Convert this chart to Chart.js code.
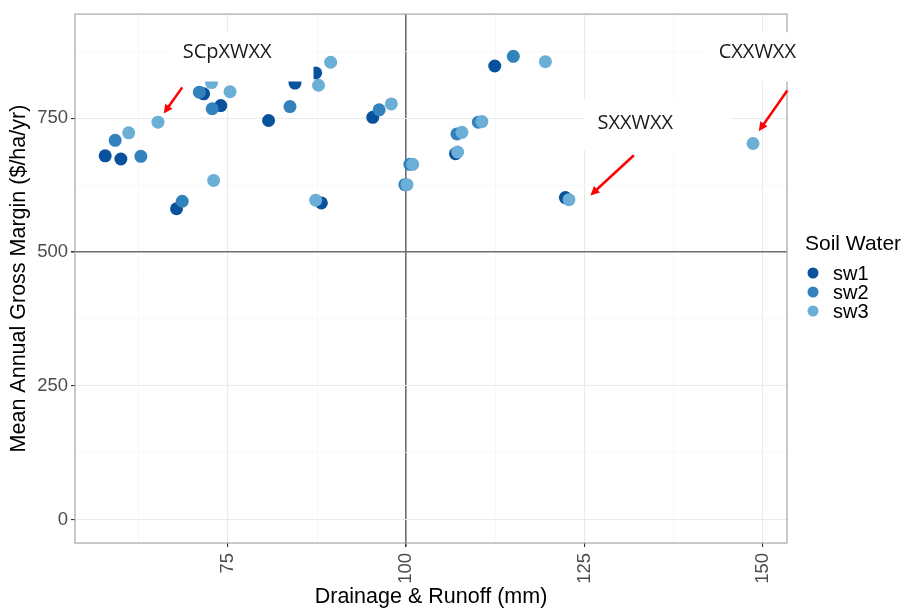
<!DOCTYPE html>
<html>
<head>
<meta charset="utf-8">
<script src="https://cdn.jsdelivr.net/npm/chart.js@4.4.1/dist/chart.umd.min.js"></script>
<style>
  html, body { margin: 0; padding: 0; background: #fff; }
</style>
</head>
<body>
<canvas id="chart" width="904" height="610"></canvas>
<script>
// data
const seriesNames = ['sw1', 'sw2', 'sw3'];
const seriesColors = ['#08519C', '#3182BD', '#6BAED6'];

const sw1X = [57.8, 60.0, 67.8, 71.6, 74.0, 80.7, 84.4, 87.3, 88.1, 95.3, 106.9, 112.4, 122.3];
const sw1Y = [680, 674, 581, 796, 774, 746, 816, 835, 592, 752, 684, 848, 602];

const sw2X = [59.2, 62.8, 68.6, 71.0, 72.8, 83.7, 96.2, 99.8, 100.5, 107.1, 110.1, 115.0];
const sw2Y = [709, 679, 595, 799, 768, 772, 766, 626, 664, 721, 743, 866];

const sw3X = [61.1, 65.2, 73.0, 75.3, 72.7, 87.7, 89.4, 87.3, 97.9, 100.1, 100.9, 107.2, 107.8, 110.6, 119.5, 122.8, 148.6];
const sw3Y = [723, 743, 634, 800, 817, 812, 855, 597, 777, 626, 664, 687, 724, 744, 856, 598, 703];

const xTicks = [75, 100, 125, 150];
const xMinor = [62.5, 87.5, 112.5, 137.5];
const yTicks = [0, 250, 500, 750];
const yMinor = [125, 375, 625, 875];
const refX = 100;
const refY = 500;

// pasted-on notes, in data units
const noteText = ['SCpXWXX', 'SXXWXX', 'CXXWXX'];
const noteAt = [[74.9, 873], [132.1, 741], [149.2, 873]];
const noteBox = [[66.8, 87.0, 911, 819], [124.9, 145.5, 784, 690], [141.5, 155.0, 911, 819]];
const arrowFrom = [[68.6, 808], [131.9, 681], [153.4, 802]];
const arrowTo = [[66.0, 759], [125.8, 606], [149.4, 726]];

const AXIS_FONT = 'Liberation Sans, Arial, sans-serif';

function makePoints(xs, ys) {
    return xs.map((x, i) => ({x: x, y: ys[i]}));
}

function tickList(majors, minors) {
    return majors.concat(minors).sort((a, b) => a - b).map(v => ({value: v}));
}

function gridColor(v, ref, majors) {
    if (v === ref) return '#6e6e6e';
    if (majors.includes(v)) return '#ebebeb';
    return '#f4f4f4';
}

function gridWidth(v, ref, majors) {
    if (v === ref) return 1.6;
    if (majors.includes(v)) return 1.1;
    return 0.6;
}

function drawArrow(ctx, x1, y1, x2, y2) {
    const ang = Math.atan2(y2 - y1, x2 - x1);
    const head = 10;
    ctx.strokeStyle = '#ff0000';
    ctx.fillStyle = '#ff0000';
    ctx.lineWidth = 2.5;
    ctx.beginPath();
    ctx.moveTo(x1, y1);
    ctx.lineTo(x2 - Math.cos(ang) * head * 0.8, y2 - Math.sin(ang) * head * 0.8);
    ctx.stroke();
    ctx.beginPath();
    ctx.moveTo(x2, y2);
    ctx.lineTo(x2 - head * Math.cos(ang - 0.45), y2 - head * Math.sin(ang - 0.45));
    ctx.lineTo(x2 - head * Math.cos(ang + 0.45), y2 - head * Math.sin(ang + 0.45));
    ctx.closePath();
    ctx.fill();
}

const panelBorder = {
    id: 'panelBorder',
    beforeDatasetsDraw(chart) {
        const {ctx, chartArea: a} = chart;
        ctx.save();
        ctx.strokeStyle = '#a6a6a6';
        ctx.lineWidth = 1.2;
        ctx.strokeRect(a.left, a.top, a.right - a.left, a.bottom - a.top);
        ctx.restore();
    }
};

const notes = {
    id: 'notes',
    afterDatasetsDraw(chart) {
        const {ctx, scales} = chart;
        const sx = v => scales.x.getPixelForValue(v);
        const sy = v => scales.y.getPixelForValue(v);
        ctx.save();
        for (let i = 0; i < noteText.length; i++) {
            const b = noteBox[i];
            ctx.fillStyle = '#ffffff';
            ctx.fillRect(sx(b[0]), sy(b[2]), sx(b[1]) - sx(b[0]), sy(b[3]) - sy(b[2]));
            ctx.fillStyle = '#1a1a1a';
            ctx.font = '20px "Open Sans", sans-serif';
            ctx.textAlign = 'center';
            ctx.textBaseline = 'middle';
            ctx.fillText(noteText[i], sx(noteAt[i][0]), sy(noteAt[i][1]));
            drawArrow(ctx, sx(arrowFrom[i][0]), sy(arrowFrom[i][1]), sx(arrowTo[i][0]), sy(arrowTo[i][1]));
        }
        ctx.restore();
    }
};

const sideLegend = {
    id: 'sideLegend',
    afterDraw(chart) {
        const ctx = chart.ctx;
        ctx.save();
        ctx.fillStyle = '#000';
        ctx.textAlign = 'left';
        ctx.textBaseline = 'middle';
        ctx.font = '21px ' + AXIS_FONT;
        ctx.fillText('Soil Water', 805, 244);
        ctx.font = '20px ' + AXIS_FONT;
        seriesNames.forEach((name, i) => {
            const y = 273 + i * 19;
            ctx.fillStyle = seriesColors[i];
            ctx.beginPath();
            ctx.arc(813, y, 5.5, 0, Math.PI * 2);
            ctx.fill();
            ctx.fillStyle = '#000';
            ctx.fillText(name, 833, y + 1);
        });
        ctx.restore();
    }
};

const allX = [sw1X, sw2X, sw3X];
const allY = [sw1Y, sw2Y, sw3Y];

new Chart(document.getElementById('chart'), {
    type: 'scatter',
    data: {
        datasets: seriesNames.map((name, i) => ({
            label: name,
            data: makePoints(allX[i], allY[i]),
            backgroundColor: seriesColors[i],
            borderWidth: 0,
            pointRadius: 6.5,
            pointHoverRadius: 6.5,
            order: 2 - i
        }))
    },
    options: {
        responsive: false,
        animation: false,
        devicePixelRatio: 1,
        layout: {padding: {top: 12, right: 117, left: 0, bottom: 0}},
        plugins: {
            legend: {display: false},
            tooltip: {enabled: false}
        },
        scales: {
            x: {
                type: 'linear',
                min: 53.57,
                max: 153.36,
                afterBuildTicks: s => { s.ticks = tickList(xTicks, xMinor); },
                afterFit: s => { s.height = 67; },
                border: {display: false},
                grid: {
                    color: c => gridColor(c.tick.value, refX, xTicks),
                    lineWidth: c => gridWidth(c.tick.value, refX, xTicks),
                    tickColor: c => xTicks.includes(c.tick.value) ? '#333333' : 'rgba(0,0,0,0)',
                    tickLength: 4
                },
                ticks: {
                    autoSkip: false,
                    minRotation: 90,
                    maxRotation: 90,
                    padding: 6,
                    color: '#4d4d4d',
                    font: {family: AXIS_FONT, size: 18.5},
                    callback: v => xTicks.includes(v) ? String(v) : ''
                },
                title: {
                    display: true,
                    text: 'Drainage & Runoff (mm)',
                    color: '#000',
                    font: {family: AXIS_FONT, size: 21.5},
                    padding: {top: 0, bottom: 0}
                }
            },
            y: {
                type: 'linear',
                min: -44,
                max: 945,
                afterBuildTicks: s => { s.ticks = tickList(yTicks, yMinor); },
                afterFit: s => { s.width = 75; },
                border: {display: false},
                grid: {
                    color: c => gridColor(c.tick.value, refY, yTicks),
                    lineWidth: c => gridWidth(c.tick.value, refY, yTicks),
                    tickColor: c => yTicks.includes(c.tick.value) ? '#333333' : 'rgba(0,0,0,0)',
                    tickLength: 4
                },
                ticks: {
                    autoSkip: false,
                    padding: 3,
                    color: '#4d4d4d',
                    font: {family: AXIS_FONT, size: 18.5},
                    callback: v => yTicks.includes(v) ? String(v) : ''
                },
                title: {
                    display: true,
                    text: 'Mean Annual Gross Margin ($/ha/yr)',
                    color: '#000',
                    font: {family: AXIS_FONT, size: 21.5},
                    padding: {top: 6, bottom: 0}
                }
            }
        }
    },
    plugins: [panelBorder, notes, sideLegend]
});
</script>
</body>
</html>
